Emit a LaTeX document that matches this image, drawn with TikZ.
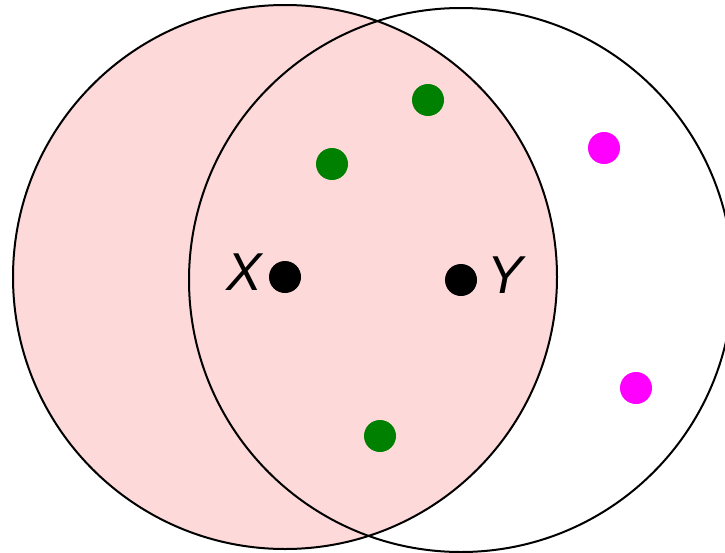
\documentclass[tikz,border=0pt]{standalone}
\usepackage{fontspec}
\setsansfont{Liberation Sans}
\usepackage{tikz}
\usepackage{xcolor}
\definecolor{setpink}{RGB}{253,217,217}
\definecolor{ptgreen}{RGB}{0,128,0}
\definecolor{ptmagenta}{RGB}{255,0,255}
\tikzset{
	pt/.style={circle, inner sep=0pt, minimum size=24pt},
	varlabel/.style={font=\sffamily\itshape\fontsize{40}{40}\selectfont, inner sep=0pt}
}

\begin{document}
\begin{tikzpicture}[x=0.75pt,y=-0.75pt]
	\useasboundingbox (0,0) rectangle (725,553);
	\clip (0,0) rectangle (725,553);
	\fill[setpink] (285,277) circle (272);
	\draw[line width=1.5pt] (285,277) circle (272);
	\draw[line width=1.5pt] (461,280) circle (272);
	\foreach 
	\name/\x/\y/\col
	in
	{
		ptX/285/277/black,
		ptY/461/280/black,
		g1/428/100/ptgreen,
		g2/332/164/ptgreen,
		g3/380/436/ptgreen,
		m1/604/148/ptmagenta,
		m2/636/388/ptmagenta}
	{
		\node [pt, fill=\col] (\name) at (\x,\y) {};
	}
	\node [varlabel] (labX) at (244,272) {X};
	\node [varlabel] (labY) at (505,275) {Y};
\end{tikzpicture}
\end{document}
